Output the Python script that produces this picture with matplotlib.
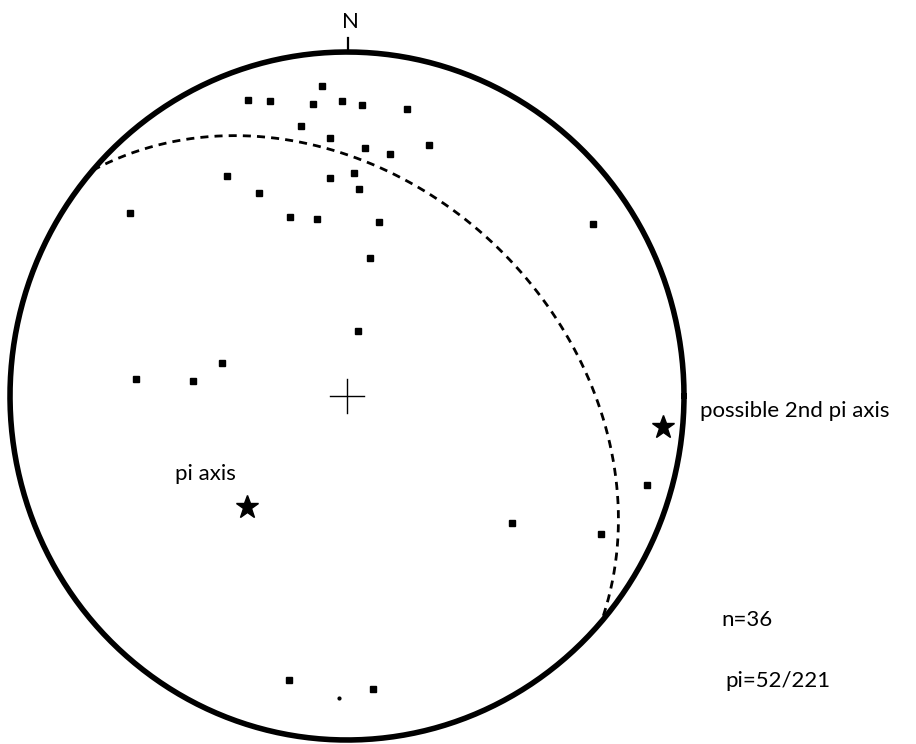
import numpy as np
import matplotlib
matplotlib.use("Agg")
import matplotlib.pyplot as plt

# pole data: east / north in units of the net radius (equal-area, lower hemisphere)
pole_x = [-0.075, -0.295, -0.228, -0.102, -0.015, 0.045, 0.177, -0.137, -0.050, 0.054,
          0.128, 0.242, -0.357, -0.262, -0.051, 0.022, 0.036, -0.169, -0.089, 0.095,
          -0.644, 0.067, 0.034, -0.372, -0.627, -0.456, 0.731, 0.889, 0.489, 0.753,
          -0.171, 0.078]
pole_y = [0.901, 0.861, 0.857, 0.848, 0.857, 0.845, 0.835, 0.784, 0.751, 0.721,
          0.703, 0.729, 0.640, 0.589, 0.635, 0.647, 0.602, 0.520, 0.514, 0.506,
          0.533, 0.401, 0.188, 0.095, 0.049, 0.043, 0.499, -0.259, -0.370, -0.401,
          -0.826, -0.853]
stray_x, stray_y = [-0.023], [-0.877]

# pi axes (stars)
pi_x = [-0.297, 0.937]
pi_y = [-0.323, -0.089]
pi_labels = ["pi axis", "possible 2nd pi axis"]

# pi axis = pole to the girdle great circle
pi_plunge, pi_trend = 52, 221
n_poles = 36


def great_circle(plunge, trend):
    p, t = np.radians(plunge), np.radians(trend)
    dip_dir = t + np.pi
    dip = np.pi / 2 - p
    s = np.array([np.sin(dip_dir - np.pi / 2), np.cos(dip_dir - np.pi / 2), 0.0])
    d = np.array([np.cos(dip) * np.sin(dip_dir), np.cos(dip) * np.cos(dip_dir), np.sin(dip)])
    th = np.linspace(0, np.pi, 300)
    v = np.outer(np.cos(th), s) + np.outer(np.sin(th), d)
    k = np.sqrt(1.0 / (1.0 + v[:, 2]))
    return v[:, 0] * k, v[:, 1] * k


fig = plt.figure(figsize=(9.16, 7.44), dpi=100)
ax = fig.add_axes([0, 0, 1, 1])
ax.set_xlim(-347 / 337, 569 / 337)
ax.set_ylim(-348 / 344, 396 / 344)
ax.axis("off")

# primitive circle
a = np.linspace(0, 2 * np.pi, 400)
ax.plot(np.cos(a), np.sin(a), color="black", lw=4)

# north tick, centre cross
ax.plot([0.003, 0.003], [1.0, 1.041], color="black", lw=1.6)
ax.text(0.01, 1.07, "N", ha="center", va="baseline", fontsize=16, family="Lato")
ax.plot([-0.05, 0.05], [0, 0], color="black", lw=1)
ax.plot([0, 0], [-0.05, 0.05], color="black", lw=1)

# girdle
gx, gy = great_circle(pi_plunge, pi_trend)
ax.plot(gx, gy, color="black", lw=2, linestyle=(0, (2.9, 2.2)))

ax.plot(pole_x, pole_y, "s", color="black", markersize=5, linestyle="none")
ax.plot(stray_x, stray_y, "o", color="black", markersize=2, linestyle="none")
ax.plot(pi_x, pi_y, "*", color="black", markersize=17, linestyle="none")

ax.text(-0.51, -0.244, pi_labels[0], ha="left", va="baseline", fontsize=16, family="Lato")
ax.text(1.047, -0.061, pi_labels[1], ha="left", va="baseline", fontsize=16, family="Lato")
ax.text(1.112, -0.668, "n=%d" % n_poles, ha="left", va="baseline", fontsize=16, family="Lato")
ax.text(1.122, -0.846, "pi=%d/%d" % (pi_plunge, pi_trend), ha="left", va="baseline",
        fontsize=16, family="Lato")

fig.savefig("out.png", dpi=100)
